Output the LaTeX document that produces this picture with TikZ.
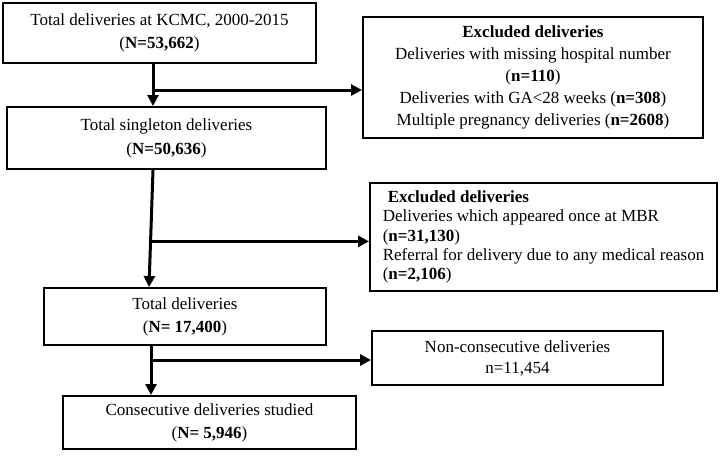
\documentclass[tikz,border=0pt]{standalone}
\usepackage{fontspec}
\setmainfont{Liberation Serif}
\usetikzlibrary{arrows.meta,calc}
\begin{document}
\begin{tikzpicture}[x=1pt,y=-1pt,
  box/.style={draw,line width=2pt,inner sep=0pt,align=center},
  arr/.style={line width=3pt,-{Triangle[length=11pt,width=11pt]}},
  fA/.style={font=\fontsize{17}{23}\selectfont},
  fB/.style={font=\fontsize{17}{22}\selectfont},
  fC/.style={font=\fontsize{17}{19.4}\selectfont},
  fD/.style={font=\fontsize{17}{21}\selectfont}]
\useasboundingbox (0,0) rectangle (720,464);

\node[box,fA,minimum width=313pt,minimum height=60pt] (b1) at (159.5,33)
  {Total deliveries at KCMC, 2000-2015\\(\textbf{N=53,662})};
\node[box,fB,minimum width=340pt,minimum height=121pt] (x1) at (533,77.5)
  {\textbf{Excluded deliveries}\\Deliveries with missing hospital number\\(\textbf{n=110})\\Deliveries with GA<28 weeks (\textbf{n=308})\\Multiple pregnancy deliveries (\textbf{n=2608})};
\node[box,font=\fontsize{17}{24}\selectfont,minimum width=319pt,minimum height=62pt] (b2) at (166.5,138)
  {Total singleton deliveries\\(\textbf{N=50,636})};
\node[box,fC,align=left,minimum width=347pt,minimum height=108pt] (x2) at (543.5,237)
  {\hspace{5pt}\textbf{Excluded deliveries}\\Deliveries which appeared once at MBR\\(\textbf{n=31,130})\\Referral for delivery due to any medical reason\\(\textbf{n=2,106})};
\node[box,fA,minimum width=282pt,minimum height=57pt] (b3) at (185,316.5)
  {Total deliveries\\(\textbf{N= 17,400})};
\node[box,fD,minimum width=291pt,minimum height=54pt] (nc) at (517.5,358)
  {Non-consecutive deliveries\\n=11,454};
\node[box,fA,minimum width=293pt,minimum height=53pt] (b4) at (209.5,422.5)
  {Consecutive deliveries studied\\(\textbf{N= 5,946})};

\coordinate (c1) at (153,0);
\coordinate (c2) at (149,0);
\coordinate (c3) at (151,0);
\coordinate (j1) at (153,90);
\coordinate (j3) at (151,360);

\draw[arr] (b1.south -| c1) -- (b2.north -| c1);
\draw[arr] (j1) -- (j1 -| x1.west);

\draw[arr] (b2.south -| c1) -- (b3.north -| c2);
\coordinate (j2) at ($(b2.south -| c1)!0.61!(b3.north -| c2)$);
\draw[arr] (j2) -- (j2 -| x2.west);

\draw[arr] (b3.south -| c3) -- (b4.north -| c3);
\draw[arr] (j3) -- (j3 -| nc.west);
\end{tikzpicture}
\end{document}
